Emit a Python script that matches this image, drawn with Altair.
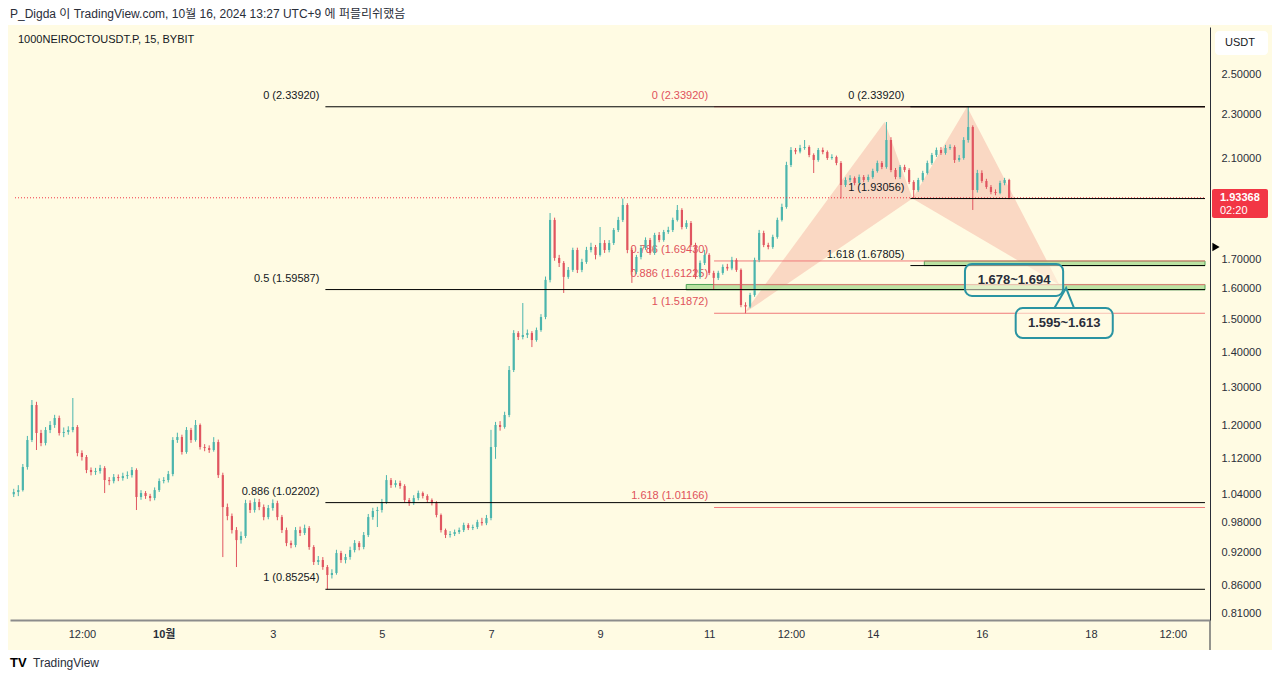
import altair as alt
import pandas as pd
import numpy as np

FONT = "Liberation Sans, Noto Sans CJK KR, sans-serif"
CREAM = "#fffbe3"
UP = "#4bb5ad"
DOWN = "#e05560"
RED = "#f23645"
RED_LINE = "#f07a7a"
RED_TEXT = "#e0525b"
BLACK = "#131722"

# ---------------- candle data (2h candles) ----------------
first_open = 1.040
close = [
    1.0449, 1.0492, 1.1010, 1.1650, 1.2536, 1.1822, 1.1577, 1.1897, 1.2022, 1.2200,
    1.1822, 1.1847, 1.1897, 1.1972, 1.1337, 1.1243, 1.0941, 1.0895, 1.0918, 1.0987,
    1.0714, 1.0690, 1.0781, 1.0759, 1.0804, 1.0826, 1.0941, 1.0340, 1.0427, 1.0362,
    1.0318, 1.0492, 1.0692, 1.0714, 1.0849, 1.1650, 1.1723, 1.1361, 1.1897, 1.1650,
    1.2022, 1.1480, 1.1456, 1.1409, 1.1601, 1.0826, 1.0126, 0.9937, 0.9650, 0.9450,
    0.9530, 1.0210, 1.0063, 1.0232, 1.0126, 0.9916, 1.0105, 1.0210, 0.9916, 0.9650,
    0.9391, 0.9352, 0.9650, 0.9590, 0.9691, 0.9314, 0.9026, 0.9064, 0.8932, 0.8784,
    0.8821, 0.9197, 0.9064, 0.9121, 0.9255, 0.9391, 0.9314, 0.9550, 0.9916, 1.0042,
    1.0063, 1.0232, 1.0714, 1.0603, 1.0647, 1.0581, 1.0275, 1.0210, 1.0318, 1.0427,
    1.0362, 1.0275, 1.0210, 0.9958, 0.9650, 0.9550, 0.9570, 0.9610, 0.9650, 0.9752,
    0.9691, 0.9711, 0.9813, 0.9790, 0.9896, 1.1480, 1.2022, 1.1972, 1.2277, 1.3487,
    1.4572, 1.4451, 1.4512, 1.4572, 1.4360, 1.4663, 1.5068, 1.6285, 1.8461, 1.7050,
    1.6873, 1.6388, 1.6629, 1.7336, 1.6629, 1.6908, 1.7336, 1.7445, 1.7157, 1.7592,
    1.7336, 1.7592, 1.8077, 1.8461, 1.9047, 1.7336, 1.6560, 1.7085, 1.7409, 1.7703,
    1.7228, 1.7890, 1.7703, 1.8002, 1.8077, 1.8461, 1.8850, 1.8190, 1.8343, 1.7518,
    1.6388, 1.6873, 1.7157, 1.6525, 1.6353, 1.6525, 1.6733, 1.6680, 1.6979, 1.6629,
    1.5451, 1.5400, 1.5780, 1.6979, 1.7965, 1.7518, 1.7445, 1.7816, 1.8461, 1.8968,
    2.0710, 2.1370, 2.1300, 2.1460, 2.1504, 2.1147, 2.0928, 2.1370, 2.1281, 2.1015,
    2.1059, 2.0797, 1.9861, 2.0071, 2.0155, 1.9945, 2.0197, 2.0071, 2.0197, 2.0451,
    2.0797, 2.0624, 2.1821, 2.0495, 2.0197, 2.0624, 2.0495, 1.9987, 1.9654, 2.0071,
    2.0366, 2.0797, 2.1147, 2.1370, 2.1236, 2.1460, 2.1504, 2.0928, 2.1015, 2.1821,
    2.2423, 1.9654, 2.0366, 2.0029, 1.9778, 1.9572, 1.9531, 1.9945, 2.0071, 1.93368,
]
high = [
    1.052, 1.060, 1.108, 1.175, 1.2667, 1.262, 1.190, 1.197, 1.212, 1.228,
    1.226, 1.196, 1.199, 1.272, 1.202, 1.140, 1.129, 1.100, 1.099, 1.106,
    1.103, 1.078, 1.085, 1.084, 1.088, 1.091, 1.101, 1.098, 1.049, 1.047,
    1.041, 1.055, 1.075, 1.078, 1.092, 1.172, 1.183, 1.178, 1.197, 1.195,
    1.2148, 1.206, 1.155, 1.152, 1.172, 1.166, 1.088, 1.020, 0.999, 0.971,
    0.962, 1.028, 1.027, 1.031, 1.030, 1.018, 1.017, 1.029, 1.026, 0.996,
    0.970, 0.944, 0.971, 0.972, 0.976, 0.973, 0.935, 0.914, 0.912, 0.897,
    0.889, 0.926, 0.924, 0.918, 0.932, 0.945, 0.943, 0.961, 0.998, 1.011,
    1.013, 1.030, 1.0826, 1.076, 1.071, 1.070, 1.062, 1.032, 1.038, 1.048,
    1.046, 1.040, 1.031, 1.025, 0.999, 0.968, 0.963, 0.966, 0.970, 0.980,
    0.979, 0.976, 0.986, 0.990, 0.996, 1.190, 1.210, 1.212, 1.236, 1.360,
    1.466, 1.463, 1.5516, 1.468, 1.463, 1.474, 1.516, 1.640, 1.873, 1.855,
    1.716, 1.694, 1.673, 1.742, 1.742, 1.702, 1.745, 1.760, 1.752, 1.819,
    1.770, 1.770, 1.815, 1.858, 1.9306, 1.912, 1.741, 1.716, 1.750, 1.780,
    1.778, 1.797, 1.800, 1.808, 1.820, 1.855, 1.9047, 1.892, 1.845, 1.842,
    1.760, 1.696, 1.734, 1.722, 1.660, 1.660, 1.682, 1.684, 1.709, 1.704,
    1.668, 1.554, 1.585, 1.706, 1.808, 1.805, 1.760, 1.790, 1.855, 1.910,
    2.085, 2.150, 2.146, 2.160, 2.1821, 2.158, 2.122, 2.146, 2.148, 2.135,
    2.118, 2.112, 2.088, 2.018, 2.027, 2.022, 2.030, 2.028, 2.030, 2.055,
    2.090, 2.088, 2.266, 2.195, 2.058, 2.071, 2.072, 2.057, 2.006, 2.016,
    2.046, 2.090, 2.124, 2.148, 2.150, 2.160, 2.162, 2.158, 2.115, 2.195,
    2.3392, 2.250, 2.050, 2.048, 2.012, 1.986, 1.968, 2.004, 2.016, 2.012,
]
low = [
    1.034, 1.036, 1.046, 1.095, 1.160, 1.1409, 1.150, 1.152, 1.182, 1.195,
    1.176, 1.172, 1.178, 1.184, 1.126, 1.116, 1.087, 1.082, 1.083, 1.086,
    1.0427, 1.060, 1.064, 1.069, 1.070, 1.074, 1.077, 1.0063, 1.028, 1.030,
    1.025, 1.027, 1.045, 1.064, 1.066, 1.080, 1.158, 1.130, 1.132, 1.158,
    1.161, 1.142, 1.138, 1.134, 1.137, 1.076, 0.912, 0.985, 0.958, 0.8932,
    0.938, 0.949, 1.000, 1.001, 1.006, 0.985, 0.987, 1.005, 0.985, 0.959,
    0.933, 0.929, 0.931, 0.953, 0.955, 0.926, 0.897, 0.897, 0.888, 0.85254,
    0.872, 0.879, 0.901, 0.900, 0.907, 0.921, 0.925, 0.927, 0.951, 0.986,
    0.9711, 1.001, 1.019, 1.054, 1.055, 1.052, 1.022, 1.015, 1.017, 1.027,
    1.031, 1.022, 1.016, 0.991, 0.960, 0.949, 0.950, 0.953, 0.957, 0.961,
    0.965, 0.965, 0.967, 0.974, 0.975, 0.985, 1.120, 1.188, 1.193, 1.222,
    1.343, 1.436, 1.438, 1.442, 1.415, 1.431, 1.461, 1.500, 1.620, 1.695,
    1.673, 1.5846, 1.632, 1.656, 1.652, 1.655, 1.684, 1.725, 1.700, 1.710,
    1.723, 1.725, 1.752, 1.800, 1.838, 1.722, 1.6183, 1.648, 1.700, 1.734,
    1.716, 1.716, 1.762, 1.764, 1.793, 1.800, 1.840, 1.810, 1.812, 1.745,
    1.632, 1.632, 1.680, 1.645, 1.5946, 1.628, 1.646, 1.660, 1.662, 1.656,
    1.538, 1.51872, 1.535, 1.572, 1.690, 1.744, 1.736, 1.738, 1.775, 1.840,
    1.890, 2.062, 2.118, 2.122, 2.138, 2.105, 2.0366, 2.085, 2.118, 2.093,
    2.094, 2.070, 1.93056, 1.978, 1.998, 1.985, 1.987, 1.998, 1.999, 2.012,
    2.038, 2.053, 2.055, 2.040, 2.010, 2.012, 2.040, 1.990, 1.93056, 1.958,
    2.000, 2.030, 2.072, 2.106, 2.115, 2.116, 2.138, 2.080, 2.085, 2.094,
    2.170, 1.885, 1.955, 1.995, 1.970, 1.948, 1.944, 1.948, 1.985, 1.928,
]

times = pd.date_range("2024-09-28 06:00", periods=len(close), freq="2h")
day = np.asarray((times - pd.Timestamp("2024-10-01 00:00")) / pd.Timedelta(days=1), dtype=float)
opens = [first_open] + close[:-1]
candles = pd.DataFrame({"day": day, "open": opens, "close": close, "high": high, "low": low})
candles["dir"] = np.where(candles["close"] >= candles["open"], "up", "down")

last_price = 1.93368

# ---------------- axes ----------------
X_DOMAIN = [-2.727, 19.091]      # days since Oct 1 00:00
Y_DOMAIN = [0.7995, 2.764]
x_ticks = [-1.5, 0, 2, 4, 6, 8, 10, 11.5, 13, 15, 17, 18.5]
x_tick_labels = ["12:00", "10월", "3", "5", "7", "9", "11", "12:00", "14", "16", "18", "12:00"]
y_ticks = [0.81, 0.86, 0.92, 0.98, 1.04, 1.12, 1.2, 1.3, 1.4, 1.5, 1.6, 1.7, 2.1, 2.3, 2.5]

x_label_expr = "".join(f"datum.value == {v} ? '{l}' : " for v, l in zip(x_ticks, x_tick_labels)) + "''"

x_axis = alt.Axis(values=x_ticks, labelExpr=x_label_expr, ticks=False, grid=False,
                  domainColor="#8c8c8c", domainWidth=2, labelFont=FONT, labelFontSize=11,
                  labelColor="#2a2e39", labelPadding=8, title=None, zindex=1,
                  labelOverlap=False, labelFlush=False,
                  labelFontWeight={"condition": {"test": "datum.value == 0", "value": "bold"}, "value": "normal"})
y_axis = alt.Axis(orient="right", values=y_ticks, labelExpr="format(datum.value, '.5f')",
                  ticks=False, grid=False, domainColor="#2a2e39", domainWidth=1,
                  labelFont=FONT, labelFontSize=11, labelColor="#2a2e39", labelPadding=11,
                  title=None, zindex=1, labelOverlap=False, labelFlush=False)


def X(field):
    return alt.X(f"{field}:Q", scale=alt.Scale(domain=X_DOMAIN, nice=False, zero=False), axis=x_axis)


def Y(field):
    return alt.Y(f"{field}:Q", scale=alt.Scale(type="log", domain=Y_DOMAIN, nice=False, zero=False),
                 axis=y_axis, stack=None)


one = pd.DataFrame({"k": [0]})

# ---------------- fib tools ----------------
tool_a_start = 2.964
tool_a_levels = ["0 (2.33920)", "0.5 (1.59587)", "0.886 (1.02202)", "1 (0.85254)"]
tool_a_prices = [2.3392, 1.59587, 1.02202, 0.85254]
tool_b_start = 10.09
tool_b_levels = ["0 (2.33920)", "0.786 (1.69430)", "0.886 (1.61225)", "1 (1.51872)", "1.618 (1.01166)"]
tool_b_prices = [2.3392, 1.6943, 1.61225, 1.51872, 1.01166]
tool_c_start = 13.69
tool_c_levels = ["0 (2.33920)", "1 (1.93056)", "1.618 (1.67805)"]
tool_c_prices = [2.3392, 1.93056, 1.67805]


def fib_frame(start, labels, prices):
    return pd.DataFrame({"start": start, "end": X_DOMAIN[1], "price": prices, "label": labels})


fib_black = pd.concat([fib_frame(tool_a_start, tool_a_levels, tool_a_prices),
                       fib_frame(tool_c_start, tool_c_levels, tool_c_prices)])
fib_red = fib_frame(tool_b_start, tool_b_levels, tool_b_prices)

# green zones
zone_start = [13.945, 9.58]
zone_top = [1.694, 1.613]
zone_bottom = [1.678, 1.595]
zones = pd.DataFrame({"start": zone_start, "end": X_DOMAIN[1], "top": zone_top, "bottom": zone_bottom})

# harmonic pattern points (X, A, B, C, D)
pat_day = [10.64, 13.218, 13.727, 14.727, 16.42]
pat_price = [1.51872, 2.266, 1.93056, 2.3392, 1.61225]


def tri(p0, p1, p2, name):
    # area between upper edge p0-p1-p2 and straight lower edge p0-p2 (log scale)
    (t0, v0), (t1, v1), (t2, v2) = p0, p1, p2
    f = (t1 - t0) / (t2 - t0)
    mid_low = float(np.exp(np.log(v0) + f * (np.log(v2) - np.log(v0))))
    return pd.DataFrame({"day": [t0, t1, t2], "upper": [v0, v1, v2], "lower": [v0, mid_low, v2], "tri": name})


P = list(zip(pat_day, pat_price))
tris = pd.concat([tri(P[0], P[1], P[2], "XAB"), tri(P[2], P[3], P[4], "BCD")])

# callouts
callout_text = ["1.678~1.694", "1.595~1.613"]
callout_t0 = [14.69, 15.62]
callout_t1 = [16.49, 17.40]
callout_top = [1.6838, 1.5354]
callout_bottom = [1.5747, 1.442]
callout_text_day = [15.59, 16.51]
callout_text_price = [1.6285, 1.488]
callouts = pd.DataFrame({"t0": callout_t0, "t1": callout_t1, "top": callout_top, "bottom": callout_bottom,
                         "text": callout_text, "tday": callout_text_day, "tprice": callout_text_price})
pointer = pd.DataFrame({"day": [16.33, 16.545, 16.69], "price": [1.5354, 1.601, 1.5354], "o": [0, 1, 2]})

price_line = pd.DataFrame({"start": [X_DOMAIN[0]], "end": [X_DOMAIN[1]], "price": [last_price]})

# ---------------- layers ----------------
bg = alt.Chart(one).mark_rect(fill=CREAM).encode(
    x=alt.value(-2), x2=alt.value(1262), y=alt.value(-2), y2=alt.value(623))

tri_layer = alt.Chart(tris).mark_area(color="#f4a897", opacity=0.42, interpolate="linear").encode(
    x=X("day"), y=Y("upper"), y2="lower", detail="tri:N")

zone_layer = alt.Chart(zones).mark_rect(fill="#b3e09c", stroke="#3f9a4a", strokeWidth=1, opacity=0.9).encode(
    x=X("start"), x2="end", y=Y("top"), y2="bottom")

red_lines = alt.Chart(fib_red).mark_rule(color=RED_LINE, strokeWidth=1).encode(
    x=X("start"), x2="end", y=Y("price"))
red_labels = alt.Chart(fib_red).mark_text(align="right", baseline="middle", dx=-6, dy=-11,
                                          font=FONT, fontSize=11, color=RED_TEXT).encode(
    x=X("start"), y=Y("price"), text="label:N")

color_enc = alt.Color("dir:N", scale=alt.Scale(domain=["up", "down"], range=[UP, DOWN]), legend=None)
wicks = alt.Chart(candles).mark_rule(strokeWidth=1, clip=True).encode(
    x=X("day"), y=Y("low"), y2="high", color=color_enc)
bodies = alt.Chart(candles).mark_bar(size=2.2, clip=True).encode(
    x=X("day"), y=Y("open"), y2="close", color=color_enc)

dotted = alt.Chart(price_line).mark_rule(color=RED, strokeDash=[1, 2], strokeWidth=1).encode(
    x=X("start"), x2="end", y=Y("price"))

black_lines = alt.Chart(fib_black).mark_rule(color="#000000", strokeWidth=1).encode(
    x=X("start"), x2="end", y=Y("price"))
black_labels = alt.Chart(fib_black).mark_text(align="right", baseline="middle", dx=-6, dy=-11,
                                              font=FONT, fontSize=11, color=BLACK).encode(
    x=X("start"), y=Y("price"), text="label:N")

callout_boxes = alt.Chart(callouts).mark_rect(cornerRadius=7, stroke="#2a94a2", strokeWidth=2,
                                              fill=CREAM, fillOpacity=0.55).encode(
    x=X("t0"), x2="t1", y=Y("top"), y2="bottom")
callout_labels = alt.Chart(callouts).mark_text(font=FONT, fontSize=13, fontWeight="bold", color="#2a2e39",
                                               baseline="middle").encode(
    x=X("tday"), y=Y("tprice"), text="text:N")
pointer_line = alt.Chart(pointer).mark_line(color="#2a94a2", strokeWidth=2).encode(
    x=X("day"), y=Y("price"), order="o:Q")

# chrome (header, footer, price-scale widgets)
header = alt.Chart(one).mark_text(align="left", baseline="top", font=FONT, fontSize=12, color="#2a2e39").encode(
    x=alt.value(0), y=alt.value(-18), text=alt.value("P_Digda 이 TradingView.com, 10월 16, 2024 13:27 UTC+9 에 퍼블리쉬했음"))
title = alt.Chart(one).mark_text(align="left", baseline="middle", font=FONT, fontSize=11, color=BLACK).encode(
    x=alt.value(8), y=alt.value(13), text=alt.value("1000NEIROCTOUSDT.P, 15, BYBIT"))
usdt_box = alt.Chart(one).mark_rect(fill="white", cornerRadius=4).encode(
    x=alt.value(1205), x2=alt.value(1258), y=alt.value(4), y2=alt.value(28))
usdt_text = alt.Chart(one).mark_text(align="left", baseline="middle", font=FONT, fontSize=11, color=BLACK).encode(
    x=alt.value(1215), y=alt.value(16), text=alt.value("USDT"))
price_box = alt.Chart(one).mark_rect(fill=RED, cornerRadius=2).encode(
    x=alt.value(1202), x2=alt.value(1258), y=alt.value(162), y2=alt.value(191))
price_text = alt.Chart(one).mark_text(align="left", baseline="middle", font=FONT, fontSize=11,
                                      fontWeight="bold", color="white").encode(
    x=alt.value(1210), y=alt.value(171), text=alt.value("1.93368"))
timer_text = alt.Chart(one).mark_text(align="left", baseline="middle", font=FONT, fontSize=11, color="white").encode(
    x=alt.value(1210), y=alt.value(184), text=alt.value("02:20"))
marker = alt.Chart(one).mark_point(shape="triangle-right", filled=True, color="#000000", size=70, opacity=1).encode(
    x=alt.value(1206), y=alt.value(220))
axis_ext = alt.Chart(one).mark_rule(color="#2a2e39", strokeWidth=1).encode(
    x=alt.value(1200), y=alt.value(593), y2=alt.value(623))
logo = alt.Chart(one).mark_text(align="left", baseline="middle", font=FONT, fontSize=13,
                                fontWeight="bold", color="#000000").encode(
    x=alt.value(0), y=alt.value(636), text=alt.value("TV"))
logo_text = alt.Chart(one).mark_text(align="left", baseline="middle", font=FONT, fontSize=12, color="#2a2e39").encode(
    x=alt.value(23), y=alt.value(636), text=alt.value("TradingView"))

chart = alt.layer(
    bg, tri_layer, zone_layer, red_lines, red_labels, wicks, bodies, dotted,
    black_lines, black_labels, callout_boxes, callout_labels, pointer_line,
    header, title, usdt_box, usdt_text, price_box, price_text, timer_text, marker,
    axis_ext, logo, logo_text,
).properties(
    width=1200, height=593,
    autosize=alt.AutoSizeParams(type="none"),
    padding={"left": 2, "top": 19, "right": 62, "bottom": 50},
    background="white",
).configure_view(stroke=None)

chart.save("out.html", embed_options={"renderer": "svg", "actions": False})
